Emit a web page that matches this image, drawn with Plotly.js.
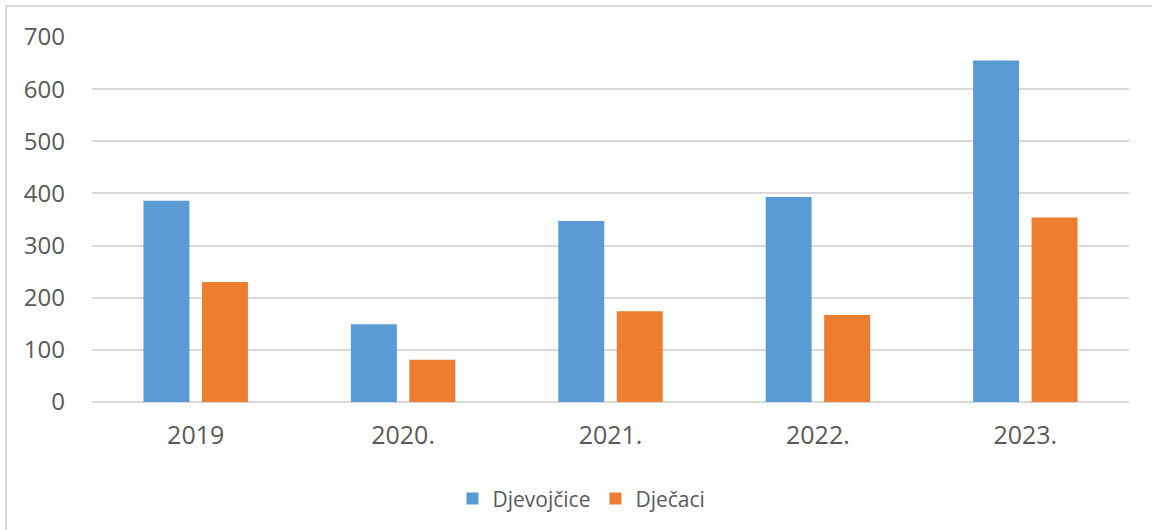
<!DOCTYPE html>
<html>
<head>
<meta charset="utf-8">
<script src="https://cdn.plot.ly/plotly-3.0.1.min.js"></script>
<style>
  html, body { margin: 0; padding: 0; background: #fff; }
  #wrap { position: relative; width: 1152px; height: 530px; overflow: hidden; }
  #frame { position: absolute; left: 5px; top: 5px; width: 1200px; height: 600px;
           border-top: 2px solid #d9d9d9; border-left: 2px solid #d9d9d9; pointer-events: none; }
  #chart { position: absolute; left: 0; top: 0; width: 1152px; height: 530px; }
</style>
</head>
<body>
<div id="wrap">
  <div id="chart"></div>
  <div id="frame"></div>
</div>
<script>
const categories = ["2019", "2020.", "2021.", "2022.", "2023."];
const djevojcice = [386, 149, 347, 393, 655];
const djecaci = [230, 81, 174, 167, 354];
const yTicks = [0, 100, 200, 300, 400, 500, 600, 700];

const textColor = "#595959";
const font = "'Open Sans', 'Noto Sans', sans-serif";

const traces = [
  { type: "bar", name: "Djevojčice", x: categories, y: djevojcice,
    marker: { color: "#5B9BD5" }, hoverinfo: "x+y+name" },
  { type: "bar", name: "Dječaci", x: categories, y: djecaci,
    marker: { color: "#ED7D31" }, hoverinfo: "x+y+name" }
];

const layout = {
  width: 1152, height: 530,
  margin: { l: 92, r: 23, t: 37, b: 127, pad: 0 },
  paper_bgcolor: "rgba(0,0,0,0)",
  plot_bgcolor: "#ffffff",
  barmode: "group",
  bargap: 0.436,
  bargroupgap: 0.214,
  font: { family: font, color: textColor },
  showlegend: true,
  legend: {
    orientation: "h", x: 0.472, xanchor: "center", y: -0.262, yanchor: "middle",
    font: { size: 21, color: textColor, family: font }, itemwidth: 30, tracegroupgap: 0
  },
  xaxis: {
    type: "category", showgrid: false, zeroline: false, showline: false, ticks: "",
    tickfont: { size: 25, color: textColor, family: font }, ticklabelstandoff: 16
  },
  yaxis: {
    range: [0, 700], tickmode: "array", tickvals: yTicks, ticktext: yTicks.map(String),
    showgrid: true, gridcolor: "#d9d9d9", gridwidth: 2,
    zeroline: true, zerolinecolor: "#d9d9d9", zerolinewidth: 2,
    showline: false, ticks: "",
    tickfont: { size: 24, color: textColor, family: font }, ticklabelstandoff: 26
  }
};

Plotly.newPlot("chart", traces, layout, { displayModeBar: false, staticPlot: false });
</script>
</body>
</html>
